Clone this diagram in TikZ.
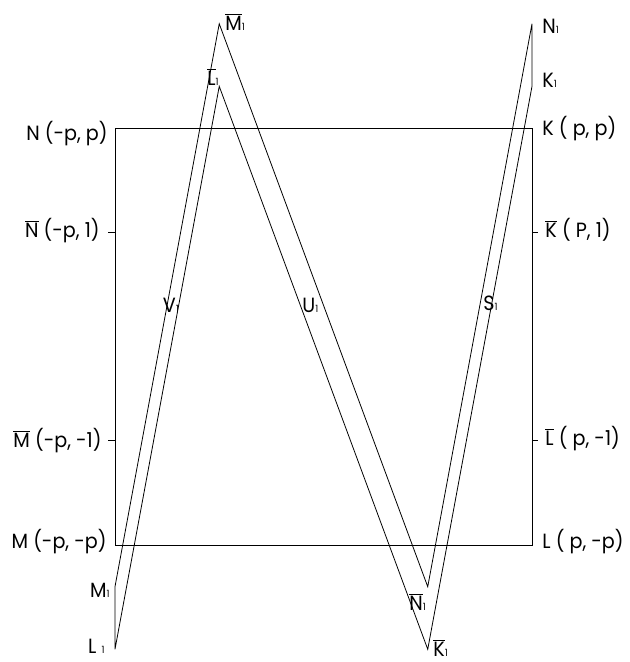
\documentclass[tikz,border=0pt]{standalone}
\usepackage{fontspec}
\setmainfont{Poppins}[FakeStretch=0.93]
\newcommand\ovl[1]{$\overline{\mbox{#1}}$}
\newcommand\one{{\fontsize{7.5}{8}\selectfont 1}}

\begin{document}
\begin{tikzpicture}[x=2.758cm, y=2.758cm, line width=0.6pt,
	every node/.style={font=\fontsize{15.5}{18}\selectfont, inner sep=0pt},
	lft/.style={anchor=base east}, rgt/.style={anchor=base west}]
	\useasboundingbox (-3.103,-3.122) rectangle (2.940,3.228);
	\coordinate (M) at (-2,-2);
	\coordinate (K) at (2,2);
	\coordinate (Nb) at (-2,1);
	\coordinate (Mb) at (-2,-1);
	\coordinate (Kb) at (2,1);
	\coordinate (Lb) at (2,-1);
	\coordinate (L1) at (-2,-3);
	\coordinate (M1) at (-2,-2.4);
	\coordinate (Lb1) at (-1,2.4);
	\coordinate (Mb1) at (-1,3);
	\coordinate (Nb1) at (1,-2.4);
	\coordinate (Kb1) at (1,-3);
	\coordinate (N1) at (2,3);
	\coordinate (K1) at (2,2.4);
	\draw (M) rectangle (K);
	\draw (Nb) -- ++(-0.07,0);
	\draw (Mb) -- ++(-0.07,0);
	\draw (Kb) -- ++(0.06,0);
	\draw (Lb) -- ++(0.06,0);
	\draw (L1) -- (Lb1) -- (Kb1) -- (K1) -- (N1) -- (Nb1) -- (Mb1) -- (M1) -- cycle;
	\node[lft] (tN) at (-2.067,1.885) {N (-p, p)};
	\node[lft] (tNb) at (-2.144,0.954) {\ovl{N} (-p, 1)};
	\node[lft] (tMb) at (-2.125,-1.060) {\ovl{M} (-p, -1)};
	\node[lft] (tM) at (-2.077,-2.038) {M (-p, -p)};
	\node[lft] (tM1) at (-2.048,-2.499) {M\one};
	\node[lft] (tL1) at (-2.096,-3.036) {L \one};
	\node[rgt] (tN1) at (2.096,2.911) {N\one};
	\node[rgt] (tK1) at (2.096,2.393) {K\one};
	\node[rgt] (tK) at (2.096,1.933) {K ( p, p)};
	\node[rgt] (tKb) at (2.125,0.954) {\ovl{K} ( P, 1)};
	\node[rgt] (tLb) at (2.125,-1.041) {\ovl{L} ( p, -1)};
	\node[rgt] (tL) at (2.096,-2.038) {L ( p, -p)};
	\node[rgt] (tMb1) at (-0.945,2.940) {\ovl{M}\one};
	\node[rgt] (tLb1) at (-1.118,2.412) {\ovl{L}\one};
	\node[rgt] (tNb1) at (0.820,-2.624) {\ovl{N}\one};
	\node[rgt] (tKb1) at (1.050,-3.065) {\ovl{K}\one};
	\node[rgt] (tV1) at (-1.544,0.235) {V\one};
	\node[rgt] (tU1) at (-0.206,0.235) {U\one};
	\node[rgt] (tS1) at (1.530,0.254) {S\one};
\end{tikzpicture}
\end{document}
